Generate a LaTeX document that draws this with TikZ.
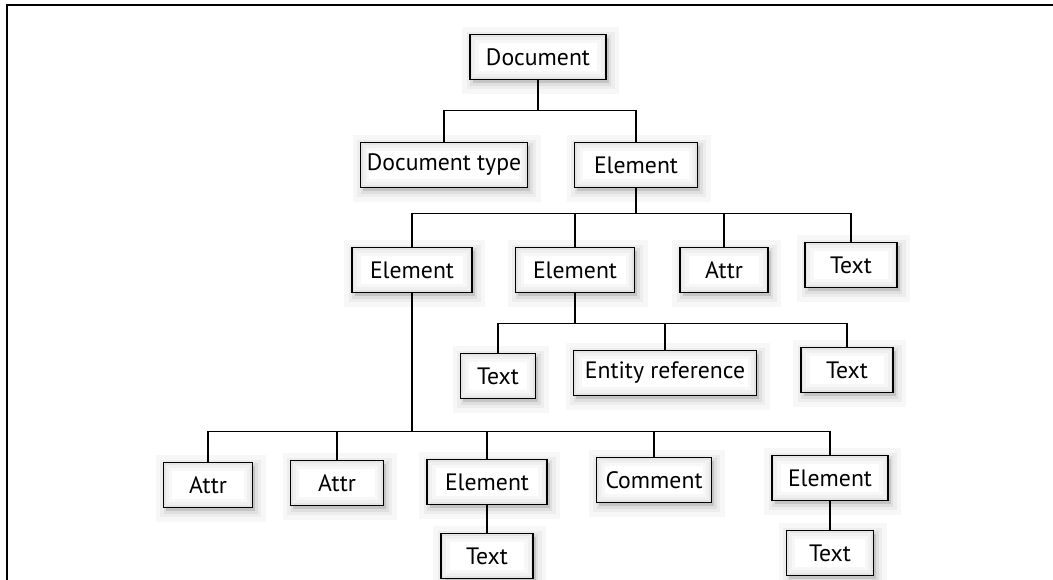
\documentclass[tikz,border=0pt]{standalone}
\usepackage{fontspec}
\setmainfont{PT Sans}
\usetikzlibrary{shadows}

\begin{document}
\begin{tikzpicture}[
    x=0.02cm, y=-0.02cm,
    domnode/.style={rectangle, draw, line width=1.1pt, fill=white, minimum height=0.9cm,
        inner xsep=1pt, text centered, font=\fontsize{13.5}{16}\selectfont,
        general shadow={draw=black, fill=black, opacity=0.03, line width=12pt, shadow xshift=1.5pt, shadow yshift=-2pt},
        general shadow={draw=black, fill=black, opacity=0.04, line width=7pt, shadow xshift=1.5pt, shadow yshift=-2pt},
        general shadow={draw=black, fill=black, opacity=0.06, line width=3pt, shadow xshift=1.5pt, shadow yshift=-2pt},
        path picture={
            \draw[black!3, line width=10pt] (path picture bounding box.south west) rectangle (path picture bounding box.north east);
            \draw[black!6, line width=6pt] (path picture bounding box.south west) rectangle (path picture bounding box.north east);
            \draw[black!10, line width=2.5pt] (path picture bounding box.south west) rectangle (path picture bounding box.north east);
        }},
    link/.style={line width=0.8pt}
]

\useasboundingbox (0, 0) rectangle (1053, 580);
\draw[line width=1.5pt] (1053, 5) -- (7, 5) -- (7, 580);

% top levels
\node[domnode, minimum width=2.72cm] (doc) at (538, 57) {Document};
\node[domnode, minimum width=3.34cm] (doctype) at (444, 165) {Document type};
\node[domnode, minimum width=2.46cm] (root) at (636, 165) {Element};

\node[domnode, minimum width=2.4cm] (elA) at (412, 270) {Element};
\node[domnode, minimum width=2.38cm] (elB) at (575, 270) {Element};
\node[domnode, minimum width=1.76cm] (attrA) at (724, 270) {Attr};
\node[domnode, minimum width=1.84cm] (txtA) at (851, 265) {Text};

% children of the middle element
\node[domnode, minimum width=1.5cm] (txtB) at (498, 376) {Text};
\node[domnode, minimum width=3.66cm] (entref) at (665, 373) {Entity reference};
\node[domnode, minimum width=1.84cm] (txtC) at (847, 370) {Text};

% children of the left element
\node[domnode, minimum width=1.78cm] (attrB) at (208, 485) {Attr};
\node[domnode, minimum width=1.86cm] (attrC) at (337, 483) {Attr};
\node[domnode, minimum width=2.4cm] (elC) at (487, 482) {Element};
\node[domnode, minimum width=2.3cm] (comment) at (654, 480) {Comment};
\node[domnode, minimum width=2.32cm] (elD) at (830, 478) {Element};

\node[domnode, minimum width=1.84cm] (txtD) at (487, 556) {Text};
\node[domnode, minimum width=1.74cm] (txtE) at (830, 553) {Text};

% connectors
\foreach \c in {doctype, root}
    \draw[link] (doc.south) -- ++(0, 30) -| (\c.north);
\foreach \c in {elA, elB, attrA, txtA}
    \draw[link] (root.south) -- ++(0, 25) -| (\c.north);
\foreach \c in {txtB, entref, txtC}
    \draw[link] (elB.south) -- ++(0, 30) -| (\c.north);
\foreach \c in {attrB, attrC, elC, comment, elD}
    \draw[link] (elA.south) -- ++(0, 138) -| (\c.north);
\draw[link] (elC.south) -- (txtD.north);
\draw[link] (elD.south) -- (txtE.north);

\end{tikzpicture}
\end{document}
